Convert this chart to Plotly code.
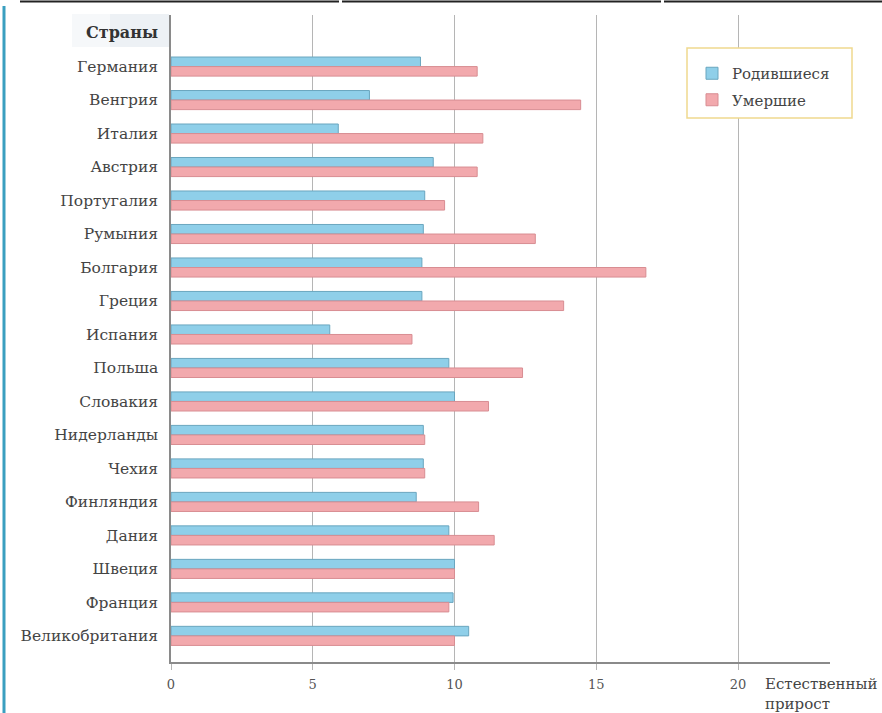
import plotly.graph_objects as go

countries = ["Германия", "Венгрия", "Италия", "Австрия", "Португалия", "Румыния",
             "Болгария", "Греция", "Испания", "Польша", "Словакия", "Нидерланды",
             "Чехия", "Финляндия", "Дания", "Швеция", "Франция", "Великобритания"]
born = [8.8, 7.0, 5.9, 9.25, 8.95, 8.9, 8.85, 8.85, 5.6, 9.8, 10.0, 8.9,
        8.9, 8.65, 9.8, 10.0, 9.95, 10.5]
died = [10.8, 14.45, 11.0, 10.8, 9.65, 12.85, 16.75, 13.85, 8.5, 12.4, 11.2, 8.95,
        8.95, 10.85, 11.4, 10.0, 9.8, 10.0]
x_ticks = [0, 5, 10, 15, 20]

SERIF = "DejaVu Serif, Liberation Serif, serif"
W, H = 882, 713
L, R, T, B = 171, 52, 15, 51
PW, PH = W - L - R, H - T - B


def px(x):
    return (x - L) / PW


def py(y):
    return (H - B - y) / PH


fig = go.Figure()
fig.add_trace(go.Bar(
    y=countries, x=born, orientation="h", name="Родившиеся",
    marker=dict(color="#8fcfe9", line=dict(color="#6aa6bf", width=1)),
    legendgroup="a",
))
fig.add_trace(go.Bar(
    y=countries, x=died, orientation="h", name="Умершие",
    marker=dict(color="#f2a9ad", line=dict(color="#d88d92", width=1)),
    legendgroup="b",
))

shapes = [
    # header background
    dict(type="rect", xref="paper", yref="paper", x0=px(72), x1=px(110), y0=py(47), y1=py(14),
         fillcolor="#f6f8fa", line=dict(width=0), layer="below"),
    dict(type="rect", xref="paper", yref="paper", x0=px(110), x1=px(169), y0=py(47), y1=py(14),
         fillcolor="#edf1f5", line=dict(width=0), layer="below"),
    # legend box
    dict(type="rect", xref="paper", yref="paper", x0=px(687), x1=px(852), y0=py(118), y1=py(48),
         fillcolor="white", line=dict(color="#efd98f", width=1.5), layer="above"),
    # scan frame: left cyan line
    dict(type="line", xref="paper", yref="paper", x0=px(4), x1=px(4), y0=py(6), y1=py(713),
         line=dict(color="#3a9fc0", width=3)),
]
# top black line with small gaps
for a, b in [(20, 339), (342, 661), (664, 882)]:
    shapes.append(dict(type="line", xref="paper", yref="paper", x0=px(a), x1=px(b),
                       y0=py(1.5), y1=py(1.5), line=dict(color="#222222", width=2)))

annotations = [
    dict(text="<b>Страны</b>", xref="paper", yref="paper", x=px(160), y=py(33),
         xanchor="right", yanchor="middle", showarrow=False,
         font=dict(family=SERIF, size=16, color="#333333")),
    dict(text="Естественный<br>прирост", xref="paper", yref="paper", x=px(763), y=py(694),
         xanchor="left", yanchor="middle", align="left", showarrow=False,
         font=dict(family=SERIF, size=15, color="#444444")),
]

fig.update_layout(
    width=W, height=H,
    margin=dict(l=L, r=R, t=T, b=B),
    paper_bgcolor="white", plot_bgcolor="white",
    barmode="group", bargap=0.43, bargroupgap=0,
    font=dict(family=SERIF, color="#444444"),
    shapes=shapes, annotations=annotations,
    legend=dict(x=px(692), y=py(57), xanchor="left", yanchor="top",
                bgcolor="rgba(0,0,0,0)", borderwidth=0, tracegroupgap=4,
                font=dict(family=SERIF, size=15, color="#444444"),
                itemwidth=30),
    showlegend=True,
)
fig.update_xaxes(
    range=[0, PW / 28.35], tickvals=x_ticks, ticktext=[str(v) for v in x_ticks],
    showgrid=True, gridcolor="#b5b5b5", gridwidth=1,
    showline=True, linecolor="#8a8a8a", linewidth=1.5,
    ticks="outside", ticklen=6, tickcolor="#b5b5b5", ticklabelstandoff=4,
    zeroline=False, tickfont=dict(family=SERIF, size=13, color="#555555"),
)
fig.update_yaxes(
    categoryorder="array", categoryarray=countries,
    range=[17.78, -1.54],
    showgrid=False, showline=True, linecolor="#8a8a8a", linewidth=1.5,
    ticks="", ticklabelstandoff=8,
    tickfont=dict(family=SERIF, size=15.5, color="#444444"),
)

fig.write_html("out.html", config={"displayModeBar": False},
               post_script="document.body.style.margin='0';")
